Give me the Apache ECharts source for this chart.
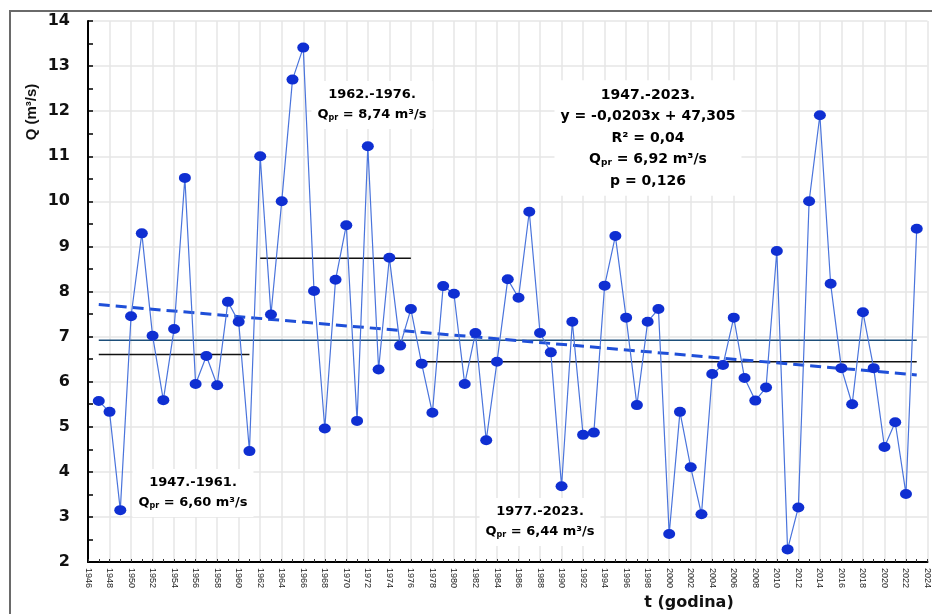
<!DOCTYPE html>
<html>
<head>
<meta charset="utf-8">
<script src="https://cdn.jsdelivr.net/npm/echarts@6/dist/echarts.min.js"></script>
<style>
  html, body { margin: 0; padding: 0; background: #fff; }
  #chart { width: 932px; height: 614px; }
</style>
</head>
<body>
<div id="chart"></div>
<script>
// godine i protok Q (m3/s)
var years = [];
for (var y = 1947; y <= 2023; y++) years.push(y);

var flow = [
  5.57, 5.33, 3.15, 7.45, 9.29, 7.02, 5.59, 7.17, 10.52, 5.95,
  6.57, 5.92, 7.77, 7.33, 4.46, 11.00, 7.49, 10.00, 12.70, 13.41,
  8.01, 4.96, 8.26, 9.47, 5.13, 11.22, 6.27, 8.75, 6.80, 7.61,
  6.40, 5.31, 8.12, 7.95, 5.95, 7.08, 4.70, 6.44, 8.27, 7.86,
  9.77, 7.08, 6.65, 3.68, 7.33, 4.82, 4.87, 8.13, 9.23, 7.42,
  5.48, 7.33, 7.61, 2.62, 5.33, 4.10, 3.06, 6.17, 6.37, 7.42,
  6.08, 5.58, 5.87, 8.90, 2.28, 3.21, 10.00, 11.91, 8.17, 6.30,
  5.50, 7.54, 6.30, 4.55, 5.10, 3.51, 9.39
];

// prosjeci po razdobljima: [od, do, Qpr]
var periodFrom = [1947, 1962, 1977];
var periodTo = [1961, 1976, 2023];
var periodMean = [6.60, 8.74, 6.44];
var periodText = ['1947.-1961.', '1962.-1976.', '1977.-2023.'];
var periodQ = ['6,60', '8,74', '6,44'];

var overallMean = 6.92;
var trendYears = [1947, 2023];
var trendValues = [7.71, 6.15];

var trendText = ['1947.-2023.', 'y = -0,0203x + 47,305', 'R² = 0,04', '6,92', 'p = 0,126'];

var chartDom = document.getElementById('chart');
var myChart = echarts.init(chartDom);
var option;

var pts = years.map(function (yr, i) { return [yr, flow[i]]; });

var series = [];
for (var k = 0; k < periodFrom.length; k++) {
  series.push({
    type: 'line',
    data: [[periodFrom[k], periodMean[k]], [periodTo[k], periodMean[k]]],
    symbol: 'none',
    lineStyle: { color: '#111', width: 1.5 },
    z: 3
  });
}
series.push({
  type: 'line',
  data: [[years[0], overallMean], [years[years.length - 1], overallMean]],
  symbol: 'none',
  lineStyle: { color: '#1d4f7a', width: 1.5 },
  z: 3
});
series.push({
  type: 'line',
  data: [[trendYears[0], trendValues[0]], [trendYears[1], trendValues[1]]],
  symbol: 'none',
  lineStyle: { color: '#1f4fd8', width: 3, type: [11, 6] },
  z: 4
});
series.push({
  type: 'line',
  data: pts,
  symbol: 'circle',
  symbolSize: [12, 10],
  itemStyle: { color: '#0f2fd2' },
  lineStyle: { color: '#4a74dc', width: 1.2 },
  z: 5
});

var blackBox = function (x, y, k) {
  return {
    type: 'text',
    x: x, y: y, z: 50,
    style: {
      text: '{t|' + periodText[k] + '}\n{t|Q}{s|pr}{t| = ' + periodQ[k] + ' m³/s}',
      align: 'center', verticalAlign: 'middle',
      backgroundColor: '#fff', padding: [4, 6],
      rich: {
        t: { fontFamily: 'DejaVu Sans', fontWeight: 'bold', fontSize: 13, color: '#111', lineHeight: 20 },
        s: { fontFamily: 'DejaVu Sans', fontWeight: 'bold', fontSize: 8, color: '#111', lineHeight: 20, padding: [6, 0, 0, 0] }
      }
    }
  };
};

var blueStyle = { fontFamily: 'DejaVu Sans', fontWeight: 'bold', fontSize: 14, color: '#1a35c8', lineHeight: 21.5 };

option = {
  animation: false,
  grid: { left: 88, right: 0, top: 21, bottom: 52 },
  xAxis: {
    type: 'value',
    min: 1946, max: 2024, interval: 2,
    axisLine: { show: true, onZero: false, lineStyle: { color: '#000', width: 2 } },
    axisTick: { show: true, inside: true, length: 3, lineStyle: { color: '#333' } },
    minorTick: { show: true, splitNumber: 2, length: 3, lineStyle: { color: '#333' } },
    splitLine: { show: true, lineStyle: { color: '#e6e6e6', width: 1.5 } },
    axisLabel: {
      rotate: -90, fontSize: 9, color: '#222', fontFamily: 'Liberation Sans',
      margin: 6, showMaxLabel: true,
      formatter: function (v) { return String(v); }
    }
  },
  yAxis: {
    type: 'value',
    min: 2, max: 14, interval: 1,
    axisLine: { show: true, onZero: false, lineStyle: { color: '#000', width: 2 } },
    axisTick: { show: true, inside: true, length: 5, lineStyle: { color: '#000', width: 1.5 } },
    minorTick: { show: true, splitNumber: 2, length: 5, lineStyle: { color: '#000', width: 1.5 } },
    splitLine: { show: true, lineStyle: { color: '#e6e6e6', width: 1.5 } },
    axisLabel: {
      fontFamily: 'DejaVu Sans', fontWeight: 'bold', fontSize: 16, color: '#111', margin: 18
    }
  },
  graphic: [
    {
      type: 'rect', silent: true, z: 0,
      shape: { x: 10, y: 11, width: 1000, height: 1000 },
      style: { fill: 'none', stroke: '#6a6a6a', lineWidth: 2 }
    },
    {
      type: 'text', x: 32, y: 112, rotation: Math.PI / 2, z: 50,
      style: {
        text: 'Q (m³/s)', align: 'center', verticalAlign: 'middle',
        fontFamily: 'Liberation Sans', fontWeight: 'bold', fontSize: 15, fill: '#111'
      }
    },
    {
      type: 'text', x: 689, y: 603, z: 50,
      style: {
        text: 't (godina)', align: 'center', verticalAlign: 'middle',
        fontFamily: 'DejaVu Sans', fontWeight: 'bold', fontSize: 16, fill: '#111'
      }
    },
    blackBox(193, 493, 0),
    blackBox(372, 105, 1),
    blackBox(540, 522, 2),
    {
      type: 'text', x: 648, y: 138, z: 50,
      style: {
        text: '{b|' + trendText[0] + '}\n{b|' + trendText[1] + '}\n{b|' + trendText[2] +
              '}\n{b|Q}{s|pr}{b| = ' + trendText[3] + ' m³/s}\n{b|' + trendText[4] + '}',
        align: 'center', verticalAlign: 'middle',
        backgroundColor: '#fff', padding: [4, 6],
        rich: {
          b: blueStyle,
          s: { fontFamily: 'DejaVu Sans', fontWeight: 'bold', fontSize: 9, color: '#1a35c8', lineHeight: 21.5, padding: [6, 0, 0, 0] }
        }
      }
    }
  ],
  series: series
};

option && myChart.setOption(option);
</script>
</body>
</html>
